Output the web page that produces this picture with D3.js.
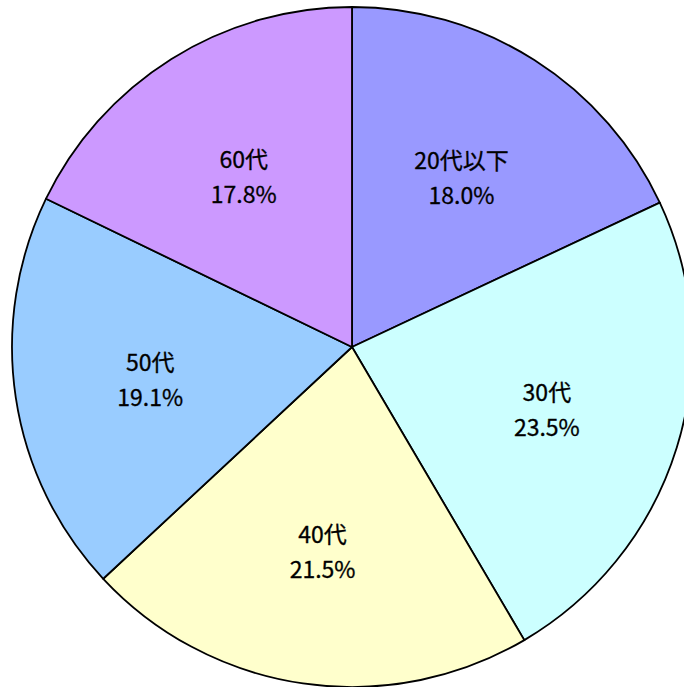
<!DOCTYPE html>
<html>
<head>
<meta charset="utf-8">
<script src="https://cdn.jsdelivr.net/npm/d3@7"></script>
<style>
  body { margin: 0; background: #fff; }
  svg text { font-family: "Noto Sans CJK JP", sans-serif; font-size: 23px; fill: #000; stroke: #000; stroke-width: 0.3px; }
</style>
</head>
<body>
<svg width="684" height="687"></svg>
<script>
// data
var categories = ["20代以下", "30代", "40代", "50代", "60代"];
var shares = [18.0, 23.5, 21.5, 19.1, 17.8];
var colors = ["#9999FF", "#CCFFFF", "#FFFFCC", "#99CCFF", "#CC99FF"];

var svg = d3.select("svg"),
    cx = 352, cy = 347, radius = 340;

var pie = d3.pie().sort(null).value(function(d) { return d; });
var arc = d3.arc().innerRadius(0).outerRadius(radius);
var labelArc = d3.arc().innerRadius(radius * 0.6).outerRadius(radius * 0.6);

var g = svg.append("g").attr("transform", "translate(" + cx + "," + cy + ")");
var arcs = pie(shares);

g.selectAll("path")
  .data(arcs)
  .enter().append("path")
    .attr("d", arc)
    .attr("fill", function(d, i) { return colors[i]; })
    .attr("stroke", "#000")
    .attr("stroke-width", 1.8)
    .attr("stroke-linejoin", "round");

var labels = g.selectAll("text.lbl")
  .data(arcs)
  .enter().append("text")
    .attr("class", "lbl")
    .attr("text-anchor", "middle")
    .attr("transform", function(d) { return "translate(" + labelArc.centroid(d) + ")"; });

labels.append("tspan")
  .attr("x", 0).attr("y", -6)
  .text(function(d, i) { return categories[i]; });
labels.append("tspan")
  .attr("x", 0).attr("y", 29)
  .text(function(d) { return d.value.toFixed(1) + "%"; });
</script>
</body>
</html>
